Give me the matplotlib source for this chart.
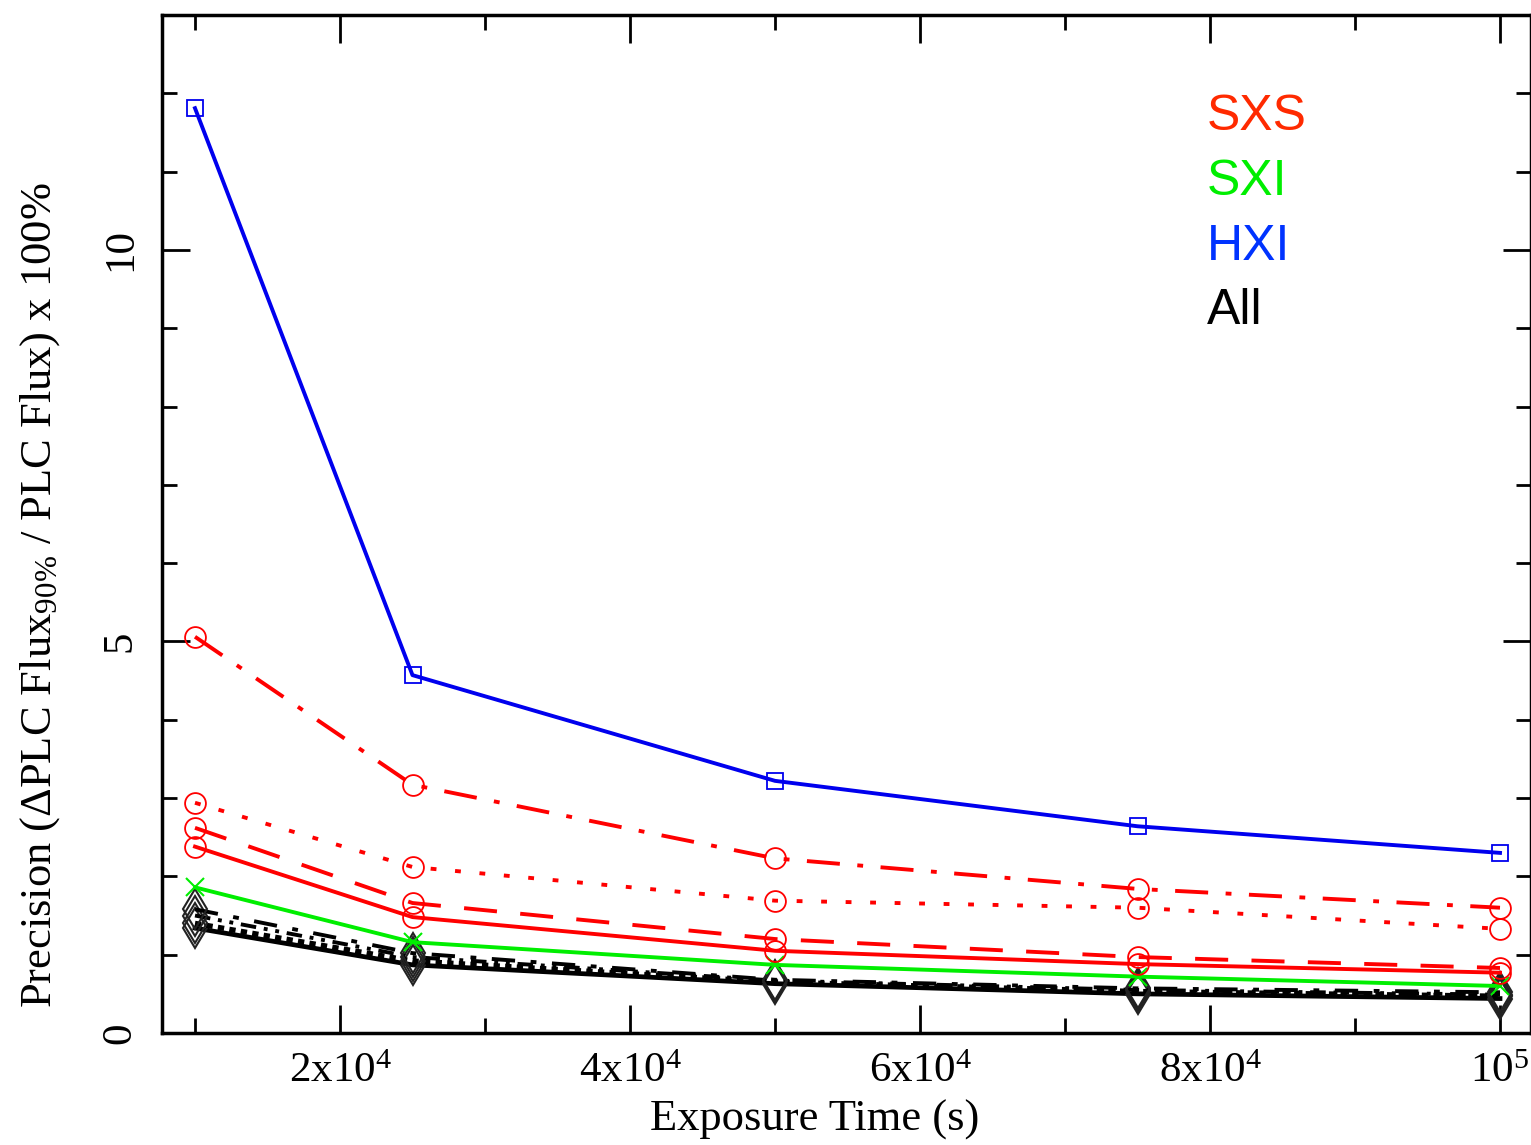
import matplotlib
matplotlib.use("Agg")
import matplotlib.pyplot as plt
from matplotlib.ticker import MultipleLocator, FixedLocator

plt.rcParams['mathtext.fontset'] = 'custom'
plt.rcParams['mathtext.rm'] = 'Liberation Serif'
plt.rcParams['mathtext.it'] = 'Liberation Serif:italic'
plt.rcParams['font.family'] = ['Liberation Serif', 'DejaVu Serif']

exposure = [1e4, 2.5e4, 5e4, 7.5e4, 1e5]

hxi = [11.81, 4.57, 3.22, 2.64, 2.30]
sxs_dashdot = [5.06, 3.17, 2.23, 1.84, 1.60]
sxs_dotted = [2.94, 2.12, 1.69, 1.60, 1.33]
sxs_dashed = [2.62, 1.66, 1.20, 0.97, 0.83]
sxs_solid = [2.38, 1.48, 1.05, 0.88, 0.77]
sxi = [1.86, 1.16, 0.87, 0.72, 0.60]
all_dashdot = [1.58, 1.02, 0.68, 0.57, 0.52]
all_dashed = [1.50, 0.97, 0.67, 0.55, 0.49]
all_dotted = [1.40, 0.92, 0.65, 0.53, 0.47]
all_solid = [1.34, 0.87, 0.63, 0.50, 0.44]

xtick_vals = [2e4, 4e4, 6e4, 8e4, 1e5]
xtick_labels = [r'$\mathregular{2x10^{4}}$', r'$\mathregular{4x10^{4}}$',
                r'$\mathregular{6x10^{4}}$', r'$\mathregular{8x10^{4}}$',
                r'$\mathregular{10^{5}}$']
ytick_vals = [0, 5, 10]

legend_names = ['SXS', 'SXI', 'HXI', 'All']
legend_colors = ['#ff2a00', '#00ee00', '#0033ff', '#000000']

RED = '#ff0000'
GREEN = '#00ee00'
BLUE = '#0000ee'

fig = plt.figure(figsize=(15.31, 11.45), dpi=100)
ax = fig.add_axes([162/1531, 112/1145, (1531-162)/1531, (1033-15)/1145])

lw = 2.8
mk = dict(marker='d', ms=20, mfc='none', mec='#222222', mew=1.5)
# black "All" lines
ax.plot(exposure, all_solid, color='black', lw=lw+0.6, **mk, zorder=3)
ax.plot(exposure, all_dotted, color='black', lw=lw+1.0, dashes=(1.2, 1.0), **mk, zorder=3)
ax.plot(exposure, all_dashed, color='black', lw=lw, dashes=(4, 2, 1, 2, 1, 2), **mk, zorder=3)
ax.plot(exposure, all_dashdot, color='black', lw=lw, dashes=(6, 4, 1.5, 4), **mk, zorder=3)

# SXI
ax.plot(exposure, sxi, color=GREEN, lw=lw, marker='x', ms=13, mew=1.5, zorder=4)

# SXS
circ = dict(marker='o', ms=15, mfc='none', mec=RED, mew=1.3)
ax.plot(exposure, sxs_solid, color=RED, lw=lw, **circ, zorder=5)
ax.plot(exposure, sxs_dashed, color=RED, lw=lw, dashes=(8.5, 6), **circ, zorder=5)
ax.plot(exposure, sxs_dotted, color=RED, lw=lw, dashes=(1.5, 4.8), **circ, zorder=5)
ax.plot(exposure, sxs_dashdot, color=RED, lw=lw, dashes=(8.5, 4.5, 1.5, 4.5), **circ, zorder=5)

# HXI
ax.plot(exposure, hxi, color=BLUE, lw=lw, marker='s', ms=12, mfc='none',
        mec=BLUE, mew=1.3, zorder=6)

ax.set_xlim(7724, 1e5 + 31/145*1e4)
ax.set_ylim(0, 13.0)

ax.xaxis.set_major_locator(FixedLocator(xtick_vals))
ax.set_xticklabels(xtick_labels)
ax.xaxis.set_minor_locator(MultipleLocator(1e4))
ax.yaxis.set_major_locator(FixedLocator(ytick_vals))
ax.yaxis.set_minor_locator(MultipleLocator(1))
ax.set_yticklabels([str(v) for v in ytick_vals], rotation=90, va='center')

ax.tick_params(which='both', direction='in', top=True, right=True, width=2)
ax.tick_params(which='major', length=20, labelsize=31, pad=14)
ax.tick_params(which='minor', length=11)
ax.tick_params(axis='y', pad=16)
for s in ax.spines.values():
    s.set_linewidth(2.5)

ax.set_xlabel('Exposure Time (s)', fontsize=32)
ax.xaxis.set_label_coords((815-162)/1369, -(1100-1033)/1018)
ax.set_ylabel(r'Precision ($\mathregular{\Delta}$PLC Flux$_{\mathregular{90\%}}$ / PLC Flux) x 100%',
              fontsize=32)
ax.yaxis.set_label_coords(-(162-62)/1369, (1033-595)/1018)

ys = [0.900, 0.836, 0.772, 0.709]
for name, col, y in zip(legend_names, legend_colors, ys):
    ax.text(0.763, y, name, color=col, fontsize=36, family='Liberation Sans',
            transform=ax.transAxes, va='center', ha='left')

fig.savefig('out.png', dpi=100)
